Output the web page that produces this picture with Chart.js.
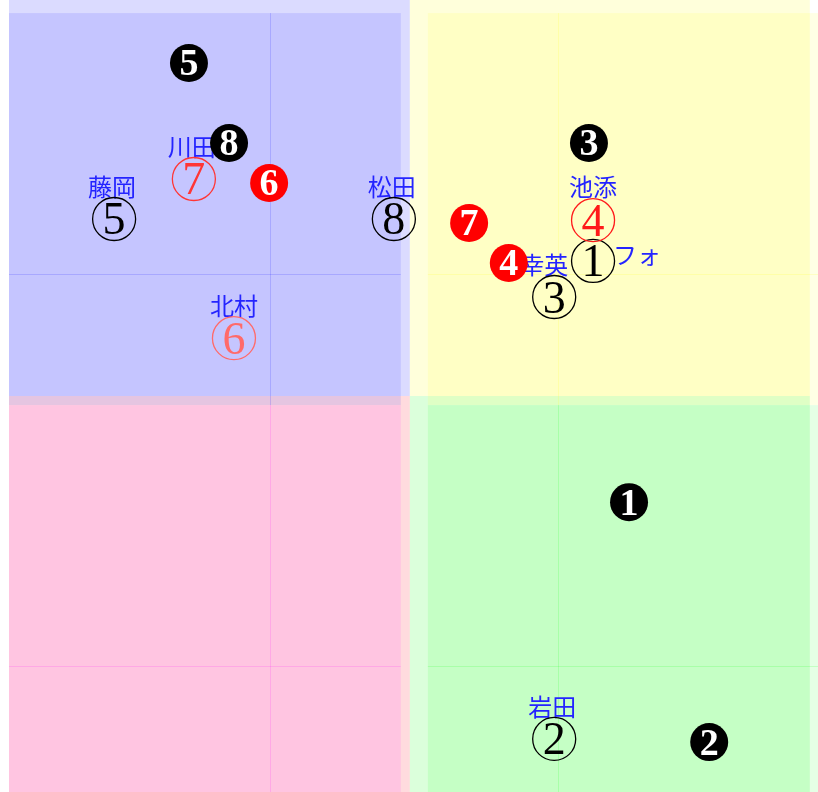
<!DOCTYPE html>
<html>
<head>
<meta charset="utf-8">
<script src="https://cdn.jsdelivr.net/npm/chart.js@4/dist/chart.umd.min.js"></script>
<style>
  html, body { margin: 0; padding: 0; background: #fff; }
  #wrap { width: 818px; height: 792px; }
</style>
</head>
<body>
<div id="wrap"><canvas id="map"></canvas></div>
<script>
// horse numbers and jockey names
var horseNo = [1, 2, 3, 4, 5, 6, 7, 8];
var jockeys = ['フォ', '岩田', '幸英', '池添', '藤岡', '北村', '川田', '松田'];

// open circles (①..⑧)
var openX = [4.50, 3.55, 3.55, 4.50, -7.21, -4.28, -5.26, -0.37];
var openY = [3.41, -8.66, 2.50, 4.44, 4.47, 1.46, 5.48, 4.47];

// filled circles (❶..❽)
var fillX = [5.38, 7.34, 4.40, 2.44, -5.38, -3.42, 1.47, -4.40];
var fillY = [-2.68, -8.74, 6.39, 3.36, 8.41, 5.38, 4.37, 6.39];

// grid values inside the quadrants
var gridX = [-3.40, 3.64];
var gridY = [3.08, -6.82];

// --- styles ---
var openColors = ['#000', '#000', '#000', '#ff1a1a', '#000', '#ff6a6a', '#ff3636', '#000'];
var fillColors = ['#000', '#000', '#000', '#ff0000', '#000', '#ff0000', '#ff0000', '#000'];
var labelColor = '#2424ff';
var labelShift = { 0: [44, -6], 2: [-10, -32], 5: [0, -32], 3: [0, -33] };

var BLUE = [0, 0, 255], YELLOW = [255, 255, 0], GREEN = [0, 255, 0];
var RED = [255, 0, 20], MAGENTA = [255, 0, 255];

function rgba(c, a) { return 'rgba(' + c[0] + ',' + c[1] + ',' + c[2] + ',' + a + ')'; }

// back layer, then front layer (the front one carries the grid)
var boxes = [
    { c: BLUE, x0: -9.78, x1: 0.02, y0: 0.0, y1: 10, a: 0.14 },
    { c: YELLOW, x0: 0.02, x1: 9.80, y0: 0.0, y1: 10, a: 0.14 },
    { c: RED, x0: -9.78, x1: 0.02, y0: -10, y1: 0.0, a: 0.14 },
    { c: GREEN, x0: 0.02, x1: 9.80, y0: -10, y1: 0.0, a: 0.14 },
    { c: BLUE, x0: -9.78, x1: -0.20, y0: -0.23, y1: 9.67, a: 0.10, grid: true },
    { c: YELLOW, x0: 0.46, x1: 10, y0: -0.23, y1: 9.67, a: 0.10, grid: true },
    { c: MAGENTA, x0: -9.78, x1: -0.20, y0: -10, y1: -0.23, a: 0.10, grid: true },
    { c: GREEN, x0: 0.46, x1: 10, y0: -10, y1: -0.23, a: 0.10, grid: true }
];

var mapPlugin = {
    id: 'quadMap',
    beforeDatasetsDraw: function(chart) {
        var ctx = chart.ctx;
        var xs = chart.scales.x, ys = chart.scales.y;
        ctx.save();
        boxes.forEach(function(b) {
            var l = xs.getPixelForValue(b.x0), r = xs.getPixelForValue(b.x1);
            var t = ys.getPixelForValue(b.y1), btm = ys.getPixelForValue(b.y0);
            ctx.fillStyle = rgba(b.c, b.a);
            ctx.fillRect(l, t, r - l, btm - t);
            if (b.grid) {
                ctx.strokeStyle = rgba(b.c, 0.15);
                ctx.lineWidth = 1;
                gridX.forEach(function(v) {
                    if (v <= b.x0 || v >= b.x1) return;
                    var px = Math.round(xs.getPixelForValue(v)) + 0.5;
                    ctx.beginPath(); ctx.moveTo(px, t); ctx.lineTo(px, btm); ctx.stroke();
                });
                gridY.forEach(function(v) {
                    if (v <= b.y0 || v >= b.y1) return;
                    var py = Math.round(ys.getPixelForValue(v)) + 0.5;
                    ctx.beginPath(); ctx.moveTo(l, py); ctx.lineTo(r, py); ctx.stroke();
                });
            }
        });

        // jockey names above the open circles
        var meta = chart.getDatasetMeta(1);
        ctx.font = '24px "Noto Sans CJK JP"';
        ctx.fillStyle = labelColor;
        ctx.textAlign = 'center';
        ctx.textBaseline = 'middle';
        meta.data.forEach(function(pt, i) {
            var s = labelShift[i] || [-2, -32];
            ctx.fillText(jockeys[i], pt.x + s[0], pt.y + s[1]);
        });
        ctx.restore();
    },
    afterDatasetDraw: function(chart, args) {
        var ctx = chart.ctx;
        var filled = args.index === 0;
        ctx.save();
        ctx.font = filled ? 'bold 38px "Liberation Serif"' : '46px "Liberation Serif"';
        ctx.textAlign = 'center';
        ctx.textBaseline = 'alphabetic';
        args.meta.data.forEach(function(pt, i) {
            var txt = String(horseNo[i]);
            var m = ctx.measureText(txt);
            ctx.fillStyle = filled ? '#fff' : openColors[i];
            ctx.fillText(txt, pt.x, pt.y + (m.actualBoundingBoxAscent - m.actualBoundingBoxDescent) / 2);
        });
        ctx.restore();
    }
};

function toPoints(xs, ys) {
    return xs.map(function(x, i) { return { x: x, y: ys[i] }; });
}

new Chart(document.getElementById('map'), {
    type: 'scatter',
    data: {
        datasets: [
            {
                label: 'filled',
                data: toPoints(fillX, fillY),
                pointRadius: 19,
                pointBorderWidth: 0,
                pointBackgroundColor: fillColors,
                pointBorderColor: fillColors,
                order: 0
            },
            {
                label: 'open',
                data: toPoints(openX, openY),
                pointRadius: 21.5,
                pointBorderWidth: 1.3,
                pointBackgroundColor: 'rgba(0,0,0,0)',
                pointBorderColor: openColors,
                order: 1
            }
        ]
    },
    options: {
        responsive: true,
        maintainAspectRatio: false,
        animation: false,
        layout: { padding: 0, autoPadding: false },
        plugins: { legend: { display: false }, tooltip: { enabled: false } },
        scales: {
            x: { type: 'linear', min: -10, max: 10, display: false },
            y: { type: 'linear', min: -10, max: 10, display: false }
        }
    },
    plugins: [mapPlugin]
});
</script>
</body>
</html>
